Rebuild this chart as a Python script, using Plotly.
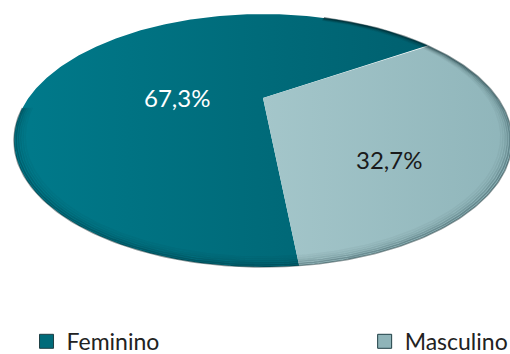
import numpy as np
import plotly.graph_objects as go

# ---- data ----
categories = ["Feminino", "Masculino"]
percent = [67.3, 32.7]
label_text = ["67,3%", "32,7%"]

# ---- style / layout constants ----
W, H = 510, 354
CX, CY = 263, 98          # projected pie centre (pixels)
A, B, K = 234.5, 112.2, 0.336   # perspective tilt parameters
START_DEG = -84.1         # angle where first slice starts (math convention), slices run clockwise
fill_grad = [
    [[0, "#007a8b"], [0.55, "#006c7b"], [1, "#00606f"]],
    [[0, "#a4c6ca"], [1, "#8fb5ba"]],
]
legend_col = ["#006b7a", "#8fb4b9"]
text_col = ["#ffffff", "#1a1a1a"]
label_pos = [(177, 97), (389, 159)]
legend_x = [0.052, 0.715]


def proj(r, theta_deg):
    t = np.radians(theta_deg)
    u, v = r * np.cos(t), r * np.sin(t)
    d = 1 + K * v
    return CX + A * u / d, CY - B * v / d


fig = go.Figure()
total = sum(percent)
ang = START_DEG
for i, (cat, p) in enumerate(zip(categories, percent)):
    sweep = 360 * p / total
    th = np.linspace(ang, ang - sweep, 300)
    xs, ys = proj(1.0, th)
    xs = np.concatenate([[CX], xs, [CX]])
    ys = np.concatenate([[CY], ys, [CY]])
    fig.add_trace(go.Scatter(
        x=xs, y=ys, mode="lines", fill="toself",
        line=dict(width=0, color=legend_col[i]),
        fillgradient=dict(type="horizontal", colorscale=fill_grad[i]),
        showlegend=False, hoverinfo="skip"))
    ang -= sweep

# rim bevel shading
rim_th = np.linspace(70, -175, 300)
for r, a in [(1.0, 0.45), (0.992, 0.3), (0.984, 0.2), (0.976, 0.12), (0.968, 0.07), (0.96, 0.04)]:
    xs, ys = proj(r, rim_th)
    fig.add_trace(go.Scatter(x=xs, y=ys, mode="lines",
                             line=dict(width=1.6, color=f"rgba(0,30,35,{a})"),
                             showlegend=False, hoverinfo="skip"))

# labels
for i in range(len(categories)):
    fig.add_annotation(x=label_pos[i][0], y=label_pos[i][1], text=label_text[i],
                       showarrow=False, font=dict(size=24, color=text_col[i], family="Lato"))

# legend-only traces (one legend box per entry)
legend_names = ["legend", "legend2"]
for i, cat in enumerate(categories):
    fig.add_trace(go.Scatter(x=[None], y=[None], mode="markers", name=cat,
                             legend=legend_names[i],
                             marker=dict(symbol="square", size=14, color=legend_col[i],
                                         line=dict(width=1, color="#1f3f45"))))

leg_common = dict(orientation="h", y=-0.025, xanchor="left", yanchor="bottom",
                  itemwidth=30, font=dict(size=23, color="#222222", family="Lato"),
                  bgcolor="rgba(0,0,0,0)")
fig.update_layout(
    width=W, height=H, margin=dict(l=0, r=0, t=0, b=0, autoexpand=False),
    paper_bgcolor="white", plot_bgcolor="white",
    xaxis=dict(range=[0, W], visible=False, fixedrange=True),
    yaxis=dict(range=[H, 0], visible=False, fixedrange=True),
    legend=dict(x=legend_x[0], **leg_common),
    legend2=dict(x=legend_x[1], **leg_common),
)
fig.write_html("out.html")
